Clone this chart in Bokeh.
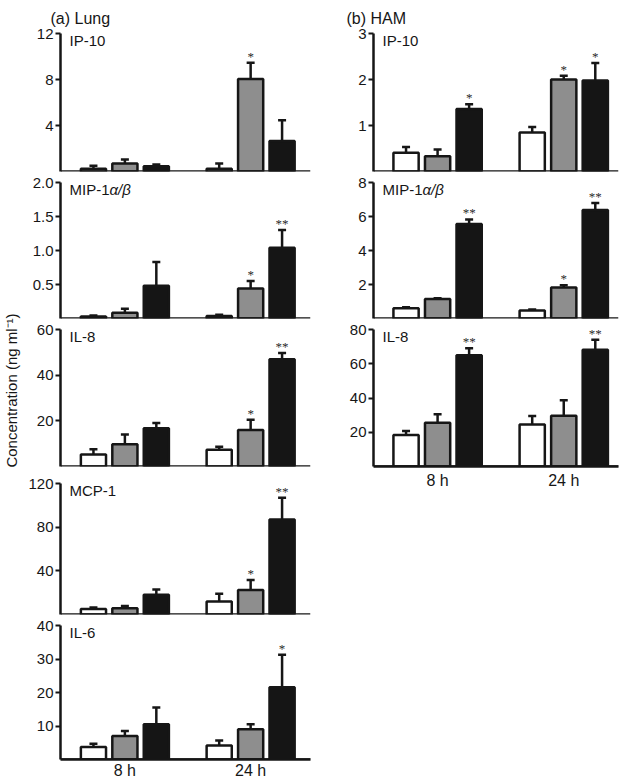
import numpy as np
from bokeh.plotting import figure
from bokeh.models import (Range1d, FixedTicker, Span, Whisker, TeeHead,
                          ColumnDataSource, Label, LabelSet, PrintfTickFormatter)
from bokeh.layouts import row, column
from bokeh.embed import file_html
from bokeh.resources import INLINE

# ---------------- data ----------------
times = ["8 h", "24 h"]
treatments = ["mock", "treatment 1", "treatment 2"]   # white, grey, black

# order of values: 8 h (white, grey, black), 24 h (white, grey, black)
lung_ip10 = [0.25, 0.7, 0.45, 0.25, 8.05, 2.65]
lung_ip10_err = [0.25, 0.35, 0.15, 0.45, 1.4, 1.8]
lung_ip10_sig = ["", "", "", "", "*", ""]
lung_ip10_ticks = [4, 8, 12]

lung_mip = [0.03, 0.085, 0.48, 0.035, 0.44, 1.04]
lung_mip_err = [0.015, 0.06, 0.35, 0.02, 0.11, 0.26]
lung_mip_sig = ["", "", "", "", "*", "**"]
lung_mip_ticks = [0.5, 1.0, 1.5, 2.0]

lung_il8 = [5.3, 9.7, 16.8, 7.3, 16.0, 47.0]
lung_il8_err = [2.3, 4.3, 2.2, 1.3, 4.5, 2.7]
lung_il8_sig = ["", "", "", "", "*", "**"]
lung_il8_ticks = [20, 40, 60]

lung_mcp1 = [5.0, 5.8, 18.0, 12.0, 22.5, 87.0]
lung_mcp1_err = [1.5, 2.0, 5.0, 7.0, 9.0, 20.0]
lung_mcp1_sig = ["", "", "", "", "*", "**"]
lung_mcp1_ticks = [40, 80, 120]

lung_il6 = [3.7, 7.0, 10.5, 4.2, 9.0, 21.6]
lung_il6_err = [1.0, 1.5, 5.0, 1.5, 1.5, 9.7]
lung_il6_sig = ["", "", "", "", "", "*"]
lung_il6_ticks = [10, 20, 30, 40]

ham_ip10 = [0.41, 0.33, 1.36, 0.85, 2.0, 1.98]
ham_ip10_err = [0.12, 0.15, 0.1, 0.12, 0.08, 0.38]
ham_ip10_sig = ["", "", "*", "", "*", "*"]
ham_ip10_ticks = [1, 2, 3]

ham_mip = [0.6, 1.15, 5.56, 0.47, 1.83, 6.38]
ham_mip_err = [0.06, 0.04, 0.27, 0.06, 0.12, 0.42]
ham_mip_sig = ["", "", "**", "", "*", "**"]
ham_mip_ticks = [2, 4, 6, 8]

ham_il8 = [18.4, 25.5, 65.0, 24.5, 29.7, 68.2]
ham_il8_err = [2.4, 5.0, 4.0, 5.0, 9.0, 5.8]
ham_il8_sig = ["", "", "**", "", "", "**"]
ham_il8_ticks = [20, 40, 60, 80]

# ---------------- style ----------------
FONT = "Liberation Sans"
INK = "#161616"
BAR_COLORS = ["white", "#8e8e8e", "#151515"]
OFFSETS = [-0.25, 0.0, 0.25]
BAR_W = 0.2


def make_panel(name, vals, errs, sig, ticks, x_range, width, height,
               bt, bb, bl, br, bottom_axis=False, italic_suffix=None,
               fmt=None, standoff=2, title=None, title_offset=0):
    ymax = ticks[-1]
    p = figure(width=width, height=height, output_backend="svg",
               toolbar_location=None,
               x_range=x_range, y_range=Range1d(0, ymax),
               x_axis_location="below" if bottom_axis else None,
               y_axis_location="left",
               min_border_top=bt, min_border_bottom=bb,
               min_border_left=bl, min_border_right=br)
    p.outline_line_color = None
    p.grid.visible = False
    p.background_fill_color = "white"
    p.border_fill_color = "white"

    if title:
        p.title.text = title
        p.title.align = "left"
        p.title.offset = title_offset
        p.title.standoff = 13
        p.title.text_font = FONT
        p.title.text_font_size = "16px"
        p.title.text_font_style = "normal"
        p.title.text_color = INK

    xs = [g + o for g in range(1, len(times) + 1) for o in OFFSETS]
    colors = BAR_COLORS * len(times)
    upper = [v + e for v, e in zip(vals, errs)]
    src = ColumnDataSource(dict(x=xs, top=vals, upper=upper, color=colors, sig=sig))

    p.vbar(x="x", top="top", bottom=0, width=BAR_W, source=src,
           fill_color="color", line_color=INK, line_width=2.5)
    p.add_layout(Whisker(base="x", lower="top", upper="upper", source=src,
                         line_color=INK, line_width=2.5, lower_head=None,
                         upper_head=TeeHead(size=8, line_color=INK, line_width=2.5)))
    p.add_layout(LabelSet(x="x", y="upper", text="sig", source=src,
                          y_offset=2, text_align="center", text_baseline="alphabetic",
                          text_font=FONT, text_font_size="13px", text_color="#2a2a2a"))
    p.add_layout(Span(location=0, dimension="width", line_color=INK, line_width=2.5))

    ax = p.yaxis[0]
    ax.ticker = FixedTicker(ticks=ticks)
    if fmt:
        ax.formatter = PrintfTickFormatter(format=fmt)
    ax.axis_line_width = 2.5
    ax.axis_line_color = INK
    ax.major_tick_line_width = 2
    ax.major_tick_line_color = INK
    ax.major_tick_out = 5
    ax.major_tick_in = 0
    ax.minor_tick_line_color = None
    ax.major_label_standoff = 2
    ax.major_label_text_font = FONT
    ax.major_label_text_font_size = "15px"
    ax.major_label_text_color = INK

    if bottom_axis:
        xa = p.xaxis[0]
        xa.ticker = FixedTicker(ticks=list(range(1, len(times) + 1)))
        xa.major_label_overrides = {i + 1: t for i, t in enumerate(times)}
        xa.axis_line_width = 2.5
        xa.axis_line_color = INK
        xa.major_tick_line_color = None
        xa.major_tick_out = 0
        xa.major_tick_in = 0
        xa.minor_tick_line_color = None
        xa.minor_tick_out = 0
        xa.major_label_standoff = standoff
        xa.major_label_text_font = FONT
        xa.major_label_text_font_size = "16px"
        xa.major_label_text_color = INK

    p.add_layout(Label(x=x_range.start, y=ymax, x_offset=9, y_offset=2,
                       text=name, text_baseline="top", text_font=FONT,
                       text_font_size="15px", text_color=INK))
    if italic_suffix:
        p.add_layout(Label(x=x_range.start, y=ymax, x_offset=49, y_offset=2,
                           text=italic_suffix, text_baseline="top", text_font=FONT,
                           text_font_style="italic",
                           text_font_size="15px", text_color=INK))
    return p


# left column (lung)
LW, LBL, LBR = 290, 38, 2
lx = lambda: Range1d(0.488, 2.476)
L1 = make_panel("IP-10", lung_ip10, lung_ip10_err, lung_ip10_sig, lung_ip10_ticks,
                lx(), LW, 172, 33, 1, LBL, LBR, title="(a) Lung", title_offset=-10)
L2 = make_panel("MIP-1", lung_mip, lung_mip_err, lung_mip_sig, lung_mip_ticks,
                lx(), LW, 147, 10, 1, LBL, LBR, italic_suffix="\u03b1/\u03b2", fmt="%.1f")
L3 = make_panel("IL-8", lung_il8, lung_il8_err, lung_il8_sig, lung_il8_ticks,
                lx(), LW, 148, 10, 1, LBL, LBR)
L4 = make_panel("MCP-1", lung_mcp1, lung_mcp1_err, lung_mcp1_sig, lung_mcp1_ticks,
                lx(), LW, 148, 16, 1, LBL, LBR)
L5 = make_panel("IL-6", lung_il6, lung_il6_err, lung_il6_sig, lung_il6_ticks,
                lx(), LW, 166, 10, 20, LBL, LBR, bottom_axis=True, standoff=2)

# right column (HAM)
RW, RBL, RBR = 308, 61, 2
rx = lambda: Range1d(0.492, 2.434)
R1 = make_panel("IP-10", ham_ip10, ham_ip10_err, ham_ip10_sig, ham_ip10_ticks,
                rx(), RW, 172, 33, 1, RBL, RBR, title="(b) HAM", title_offset=-27)
R2 = make_panel("MIP-1", ham_mip, ham_mip_err, ham_mip_sig, ham_mip_ticks,
                rx(), RW, 147, 10, 1, RBL, RBR, italic_suffix="\u03b1/\u03b2")
R3 = make_panel("IL-8", ham_il8, ham_il8_err, ham_il8_sig, ham_il8_ticks,
                rx(), RW, 173, 10, 26, RBL, RBR, bottom_axis=True, standoff=5)

# shared y-axis title
lab = figure(width=22, height=781, output_backend="svg", toolbar_location=None,
             x_range=Range1d(0, 1), y_range=Range1d(0, 1),
             x_axis_location=None, y_axis_location=None,
             min_border=0)
lab.outline_line_color = None
lab.grid.visible = False
lab.add_layout(Label(x=10.5, y=391, x_units="screen", y_units="screen",
                     text="Concentration (ng ml\u207b\u00b9)", angle=90, angle_units="deg",
                     text_align="center", text_baseline="middle", text_font=FONT,
                     text_font_size="15px", text_color=INK))

layout = row(lab, column(L1, L2, L3, L4, L5), column(R1, R2, R3))

with open("out.html", "w") as f:
    f.write(file_html(layout, INLINE))
